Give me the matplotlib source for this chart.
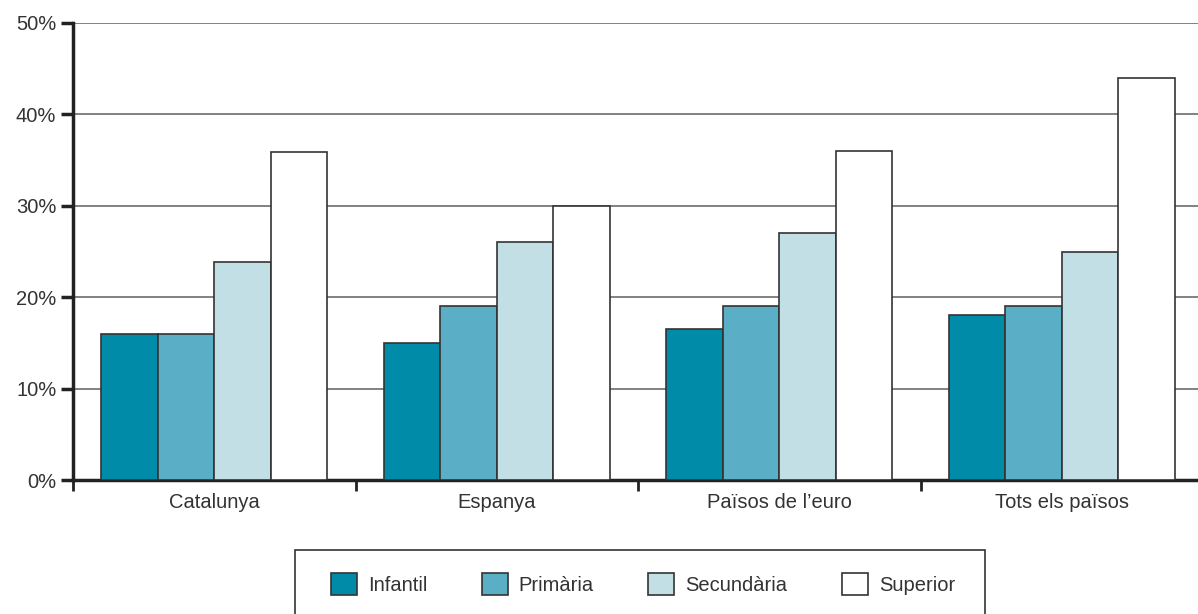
import matplotlib
matplotlib.use("Agg")
import matplotlib.pyplot as plt
import numpy as np
from matplotlib.patches import Rectangle, Patch

categories = ["Catalunya", "Espanya", "Països de l’euro", "Tots els països"]
series_names = ["Infantil", "Primària", "Secundària", "Superior"]
infantil = [16.0, 15.0, 16.5, 18.0]
primaria = [16.0, 19.0, 19.0, 19.0]
secundaria = [23.8, 26.0, 27.0, 25.0]
superior = [35.9, 30.0, 36.0, 44.0]
yticks = [0, 10, 20, 30, 40, 50]
ytick_labels = ["0%", "10%", "20%", "30%", "40%", "50%"]

colors = ["#008BA8", "#5AAFC6", "#C2DFE6", "#FFFFFF"]
text_color = "#333333"
plt.rcParams['font.family'] = ['Liberation Sans', 'DejaVu Sans']
FS = 14.5

W, H = 1198, 614
fig = plt.figure(figsize=(W / 100, H / 100), dpi=100)
left, right, top, bottom = 73, 1203, 23, 480
ax = fig.add_axes([left / W, 1 - bottom / H, (right - left) / W, (bottom - top) / H])

x = np.arange(len(categories))
width = 0.2
data = [infantil, primaria, secundaria, superior]
for i, (vals, c, name) in enumerate(zip(data, colors, series_names)):
    ax.bar(x - 0.3 + i * width, vals, width, color=c, edgecolor="#333333",
           linewidth=1.2, zorder=3, label=name)

ax.set_xlim(-0.5, len(categories) - 0.5)
ax.set_ylim(0, 50)
ax.set_yticks(yticks)
ax.set_yticklabels(ytick_labels, fontsize=FS, color=text_color)
ax.yaxis.grid(True, color="#777777", linewidth=1.3, zorder=0)
ax.set_axisbelow(True)

ax.set_xticks(np.arange(-0.5, len(categories), 1.0))
ax.set_xticklabels([])
ax.set_xticks(x, minor=True)
ax.set_xticklabels(categories, minor=True, fontsize=FS, color=text_color)
ax.tick_params(axis="x", which="major", direction="out", length=8, width=2, color="#222222")
ax.tick_params(axis="x", which="minor", length=0, pad=9)
ax.tick_params(axis="y", direction="out", length=9, width=2.5, color="#222222", pad=3)

for s in ["top", "right"]:
    ax.spines[s].set_visible(False)
ax.spines["left"].set_linewidth(2.5)
ax.spines["left"].set_color("#222222")
ax.spines["bottom"].set_linewidth(2.5)
ax.spines["bottom"].set_color("#222222")

# legend frame
rect = Rectangle((295 / W, 1 - 640 / H), (985 - 295) / W, (640 - 550) / H,
                 transform=fig.transFigure, facecolor="white", edgecolor="#333333",
                 linewidth=1.2, zorder=1)
fig.patches.append(rect)
handles = [Patch(facecolor=c, edgecolor="#333333", linewidth=1.2) for c in colors]
leg = fig.legend(handles, series_names, loc="center", bbox_to_anchor=(643 / W, 1 - 584 / H),
                 ncol=4, frameon=False, fontsize=FS, handlelength=1.3, handleheight=1.3,
                 handletextpad=0.55, columnspacing=2.7)
for t in leg.get_texts():
    t.set_color(text_color)

fig.savefig("out.png", dpi=100)
